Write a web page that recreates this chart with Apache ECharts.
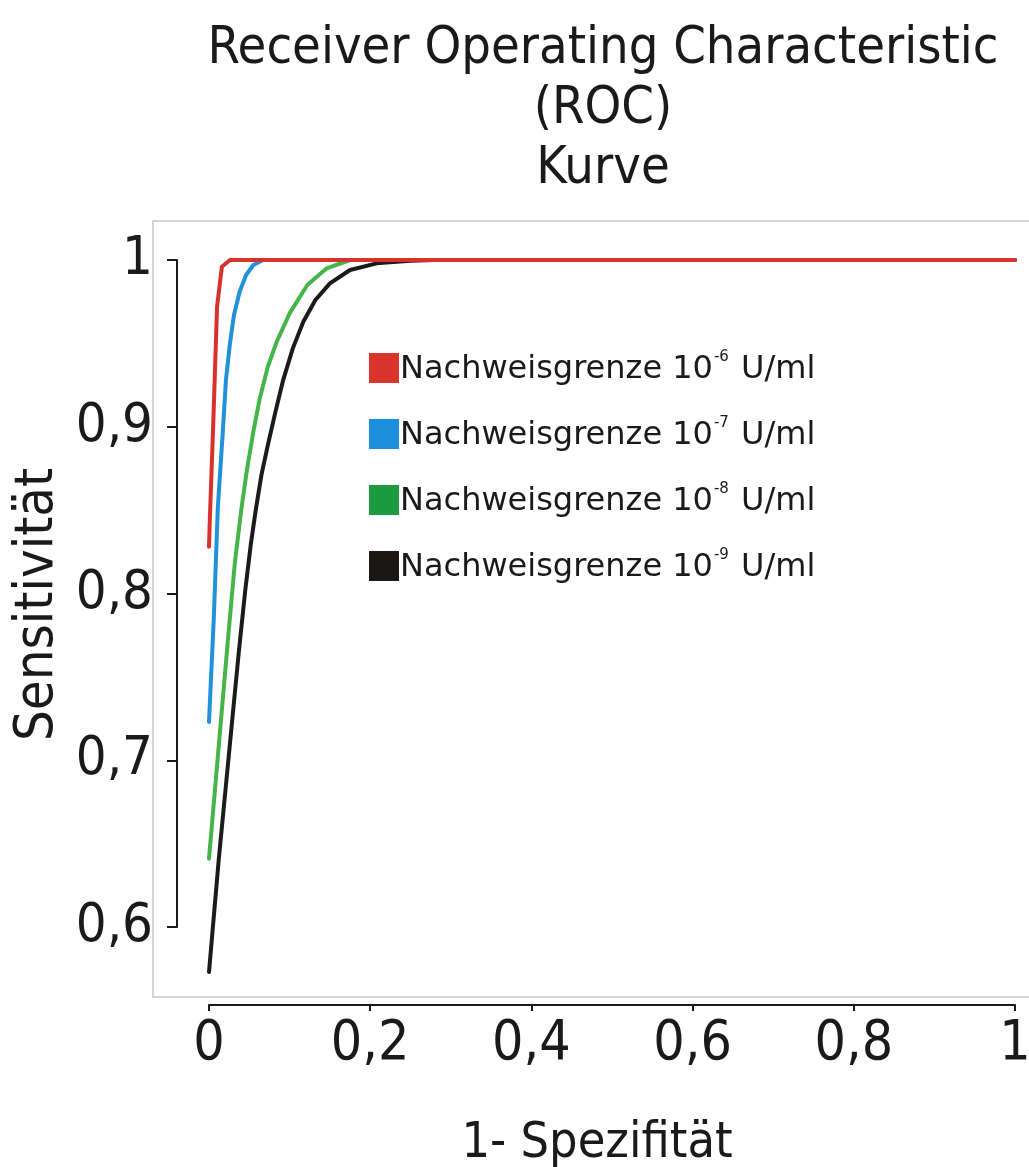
<!DOCTYPE html>
<html>
<head>
<meta charset="utf-8">
<script src="https://cdn.jsdelivr.net/npm/echarts@6/dist/echarts.min.js"></script>
<style>
  html, body { margin: 0; padding: 0; background: #fff; }
  #chart { width: 1029px; height: 1167px; }
</style>
</head>
<body>
<div id="chart"></div>
<script>
// ---- data (1 - specificity, sensitivity) ----
const exponents = ['-6', '-7', '-8', '-9'];
const seriesNames = ['Nachweisgrenze 10-6 U/ml', 'Nachweisgrenze 10-7 U/ml', 'Nachweisgrenze 10-8 U/ml', 'Nachweisgrenze 10-9 U/ml'];

const fpr6 = [0, 0.001, 0.005, 0.010, 0.016, 0.026, 1];
const tpr6 = [0.828, 0.844, 0.898, 0.972, 0.996, 1, 1];

const fpr7 = [0, 0.006, 0.011, 0.017, 0.021, 0.026, 0.031, 0.038, 0.046, 0.055, 0.067, 1];
const tpr7 = [0.723, 0.786, 0.852, 0.896, 0.928, 0.950, 0.967, 0.981, 0.991, 0.997, 1, 1];

const fpr8 = [0, 0.0136, 0.024, 0.032, 0.040, 0.047, 0.055, 0.063, 0.073, 0.084, 0.100, 0.122, 0.146, 0.175, 1];
const tpr8 = [0.641, 0.717, 0.775, 0.818, 0.850, 0.874, 0.897, 0.917, 0.936, 0.951, 0.968, 0.985, 0.995, 1, 1];

const fpr9 = [0, 0.012, 0.025, 0.037, 0.045, 0.052, 0.058, 0.065, 0.073, 0.082, 0.092, 0.104, 0.117, 0.132, 0.150, 0.175, 0.208, 0.25, 0.28, 1];
const tpr9 = [0.573, 0.640, 0.705, 0.765, 0.802, 0.830, 0.850, 0.871, 0.889, 0.908, 0.928, 0.947, 0.963, 0.976, 0.986, 0.994, 0.998, 0.9995, 1, 1];

const xTicks = [0, 0.2, 0.4, 0.6, 0.8, 1];
const yTicks = [0.6, 0.7, 0.8, 0.9, 1];

const titleText = 'Receiver Operating Characteristic\n(ROC)\nKurve';
const xName = '1- Spezifität';
const yName = 'Sensitivität';

// ---- styles / layout ----
const lineColors = ['#d8322c', '#2191d9', '#46b549', '#1b1b1b'];
const legendColors = ['#d9342b', '#1d8fdc', '#1b9a3f', '#1a1717'];
const condensed = "'DejaVu Sans Condensed', 'Liberation Sans Narrow', 'DejaVu Sans', sans-serif";
const wide = "'DejaVu Sans', Verdana, sans-serif";

// pixel frame of the axes
const X0 = 209, X1 = 1015;        // x = 0 .. 1
const Y1 = 260, Y06 = 927;         // y = 1 .. 0.6
const XAXIS_Y = 1005;
const panel = { left: 153, top: 221, right: 1040, bottom: 997 };
const pxPerX = (X1 - X0) / (xTicks[xTicks.length - 1] - xTicks[0]);
const pxPerY = (Y06 - Y1) / (yTicks[yTicks.length - 1] - yTicks[0]);

const panelXMin = (panel.left - X0) / pxPerX;
const panelXMax = (panel.right - X0) / pxPerX;
const panelYMax = 1 + (Y1 - panel.top) / pxPerY;
const panelYMin = 1 - (panel.bottom - Y1) / pxPerY;

const fmt = v => String(Math.round(v * 10) / 10).replace('.', ',');

const fprs = [fpr6, fpr7, fpr8, fpr9];
const tprs = [tpr6, tpr7, tpr8, tpr9];

const series = seriesNames.map((name, i) => ({
  name: name,
  type: 'line',
  xAxisIndex: 0,
  yAxisIndex: 0,
  data: fprs[i].map((x, j) => [x, tprs[i][j]]),
  showSymbol: false,
  smooth: false,
  clip: false,
  lineStyle: { color: lineColors[i], width: 4, join: 'round', cap: 'round' },
  itemStyle: { color: lineColors[i] },
  z: 10 - i
}));

const chart = echarts.init(document.getElementById('chart'), null, { renderer: 'canvas' });

chart.setOption({
  backgroundColor: '#ffffff',
  animation: false,
  title: {
    text: titleText,
    left: 598,
    top: 14,
    textAlign: 'center',
    textStyle: {
      fontFamily: condensed,
      fontSize: 52,
      fontWeight: 'normal',
      color: '#1a1a1a',
      lineHeight: 60
    }
  },
  legend: {
    orient: 'vertical',
    left: 364,
    top: 345,
    itemWidth: 30,
    itemHeight: 30,
    itemGap: 30,
    icon: 'rect',
    selectedMode: false,
    data: seriesNames.map((n, i) => ({ name: n, itemStyle: { color: legendColors[i] } })),
    formatter: function (name) {
      const i = seriesNames.indexOf(name);
      return '{a|Nachweisgrenze 10}{s|' + exponents[i] + '}{a| U/ml}';
    },
    textStyle: {
      padding: [0, 0, 0, -4],
      rich: {
        a: { fontFamily: wide, fontSize: 32, color: '#1a1a1a', lineHeight: 36, verticalAlign: 'bottom' },
        s: { fontFamily: wide, fontSize: 15, color: '#1a1a1a', lineHeight: 36, verticalAlign: 'top', padding: [0, 2, 14, 1] }
      }
    }
  },
  grid: [
    { left: panel.left, top: panel.top, width: panel.right - panel.left, height: panel.bottom - panel.top,
      show: true, borderColor: '#c6c6c6', borderWidth: 1.5, backgroundColor: 'transparent',
      containLabel: false, outerBoundsMode: 'none' },
    { left: X0 - 32, top: Y1, width: 10, height: Y06 - Y1, containLabel: false, outerBoundsMode: 'none' },
    { left: X0, top: XAXIS_Y - 20, width: X1 - X0, height: 20, containLabel: false, outerBoundsMode: 'none' }
  ],
  xAxis: [
    { type: 'value', gridIndex: 0, min: panelXMin, max: panelXMax, show: false },
    { type: 'value', gridIndex: 1, min: 0, max: 1, show: false },
    { type: 'value', gridIndex: 2, min: xTicks[0], max: xTicks[xTicks.length - 1], interval: 0.2, position: 'bottom',
      name: xName, nameLocation: 'middle', nameGap: 114,
      nameTextStyle: { fontFamily: condensed, fontSize: 50, color: '#1a1a1a', padding: [0, 30, 0, 0] },
      axisLine: { show: true, lineStyle: { color: '#1a1a1a', width: 2 } },
      axisTick: { show: true, inside: false, length: 6, lineStyle: { color: '#1a1a1a', width: 2 } },
      splitLine: { show: false },
      axisLabel: { show: true, margin: 12, formatter: fmt, fontFamily: condensed, fontSize: 55, color: '#1a1a1a',
        showMinLabel: true, showMaxLabel: true, hideOverlap: false }
    }
  ],
  yAxis: [
    { type: 'value', gridIndex: 0, min: panelYMin, max: panelYMax, show: false },
    { type: 'value', gridIndex: 1, min: yTicks[0], max: yTicks[yTicks.length - 1], interval: 0.1, position: 'left',
      name: yName, nameLocation: 'middle', nameGap: 112, nameRotate: 90,
      nameTextStyle: { fontFamily: condensed, fontSize: 54, color: '#1a1a1a', padding: [0, 22, 0, 0] },
      axisLine: { show: true, lineStyle: { color: '#1a1a1a', width: 2 } },
      axisTick: { show: true, inside: false, length: 10, lineStyle: { color: '#1a1a1a', width: 2 } },
      splitLine: { show: false },
      axisLabel: { show: true, margin: 24, formatter: fmt, fontFamily: condensed, fontSize: 54, color: '#1a1a1a',
        padding: [12, 0, 0, 0], showMinLabel: true, showMaxLabel: true, hideOverlap: false }
    },
    { type: 'value', gridIndex: 2, min: 0, max: 1, show: false }
  ],
  series: series
});
</script>
</body>
</html>
